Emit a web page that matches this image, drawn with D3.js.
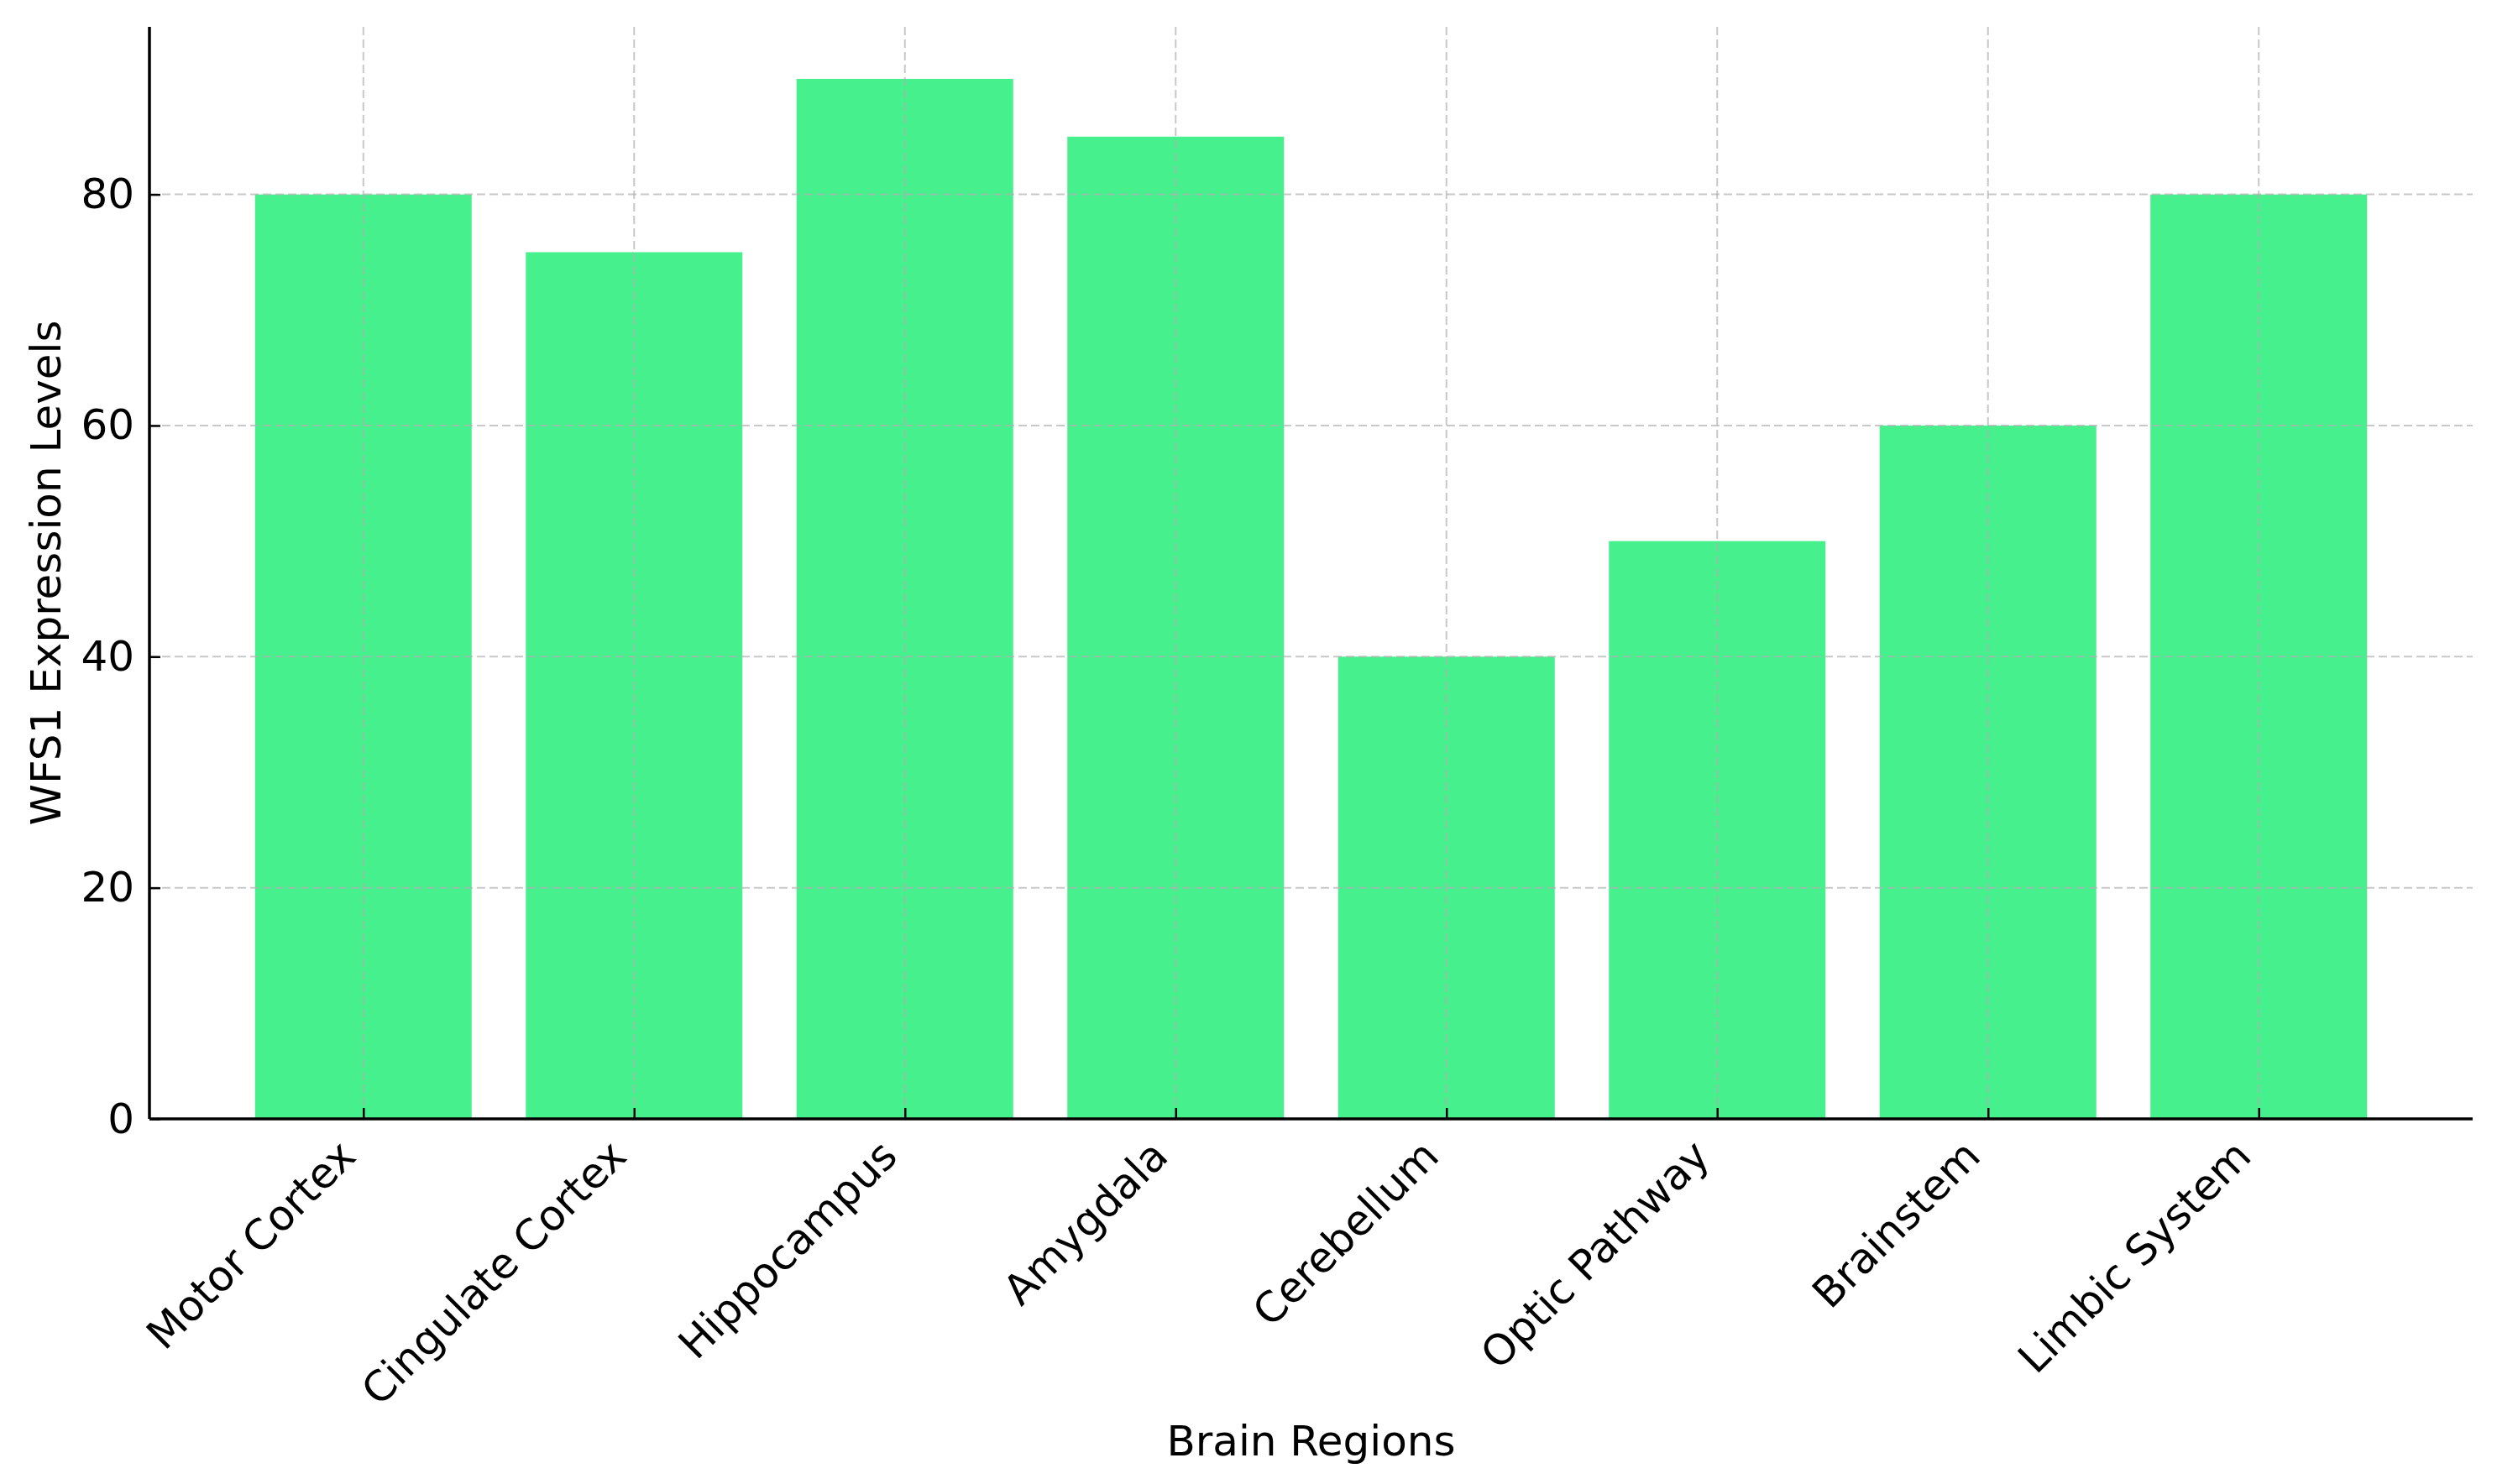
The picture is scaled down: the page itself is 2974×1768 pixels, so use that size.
<!DOCTYPE html>
<html>
<head>
<meta charset="utf-8">
<script src="https://cdn.jsdelivr.net/npm/d3@7"></script>
<style>
  body { margin: 0; background: #fff; }
  svg { display: block; font-family: "DejaVu Sans", sans-serif; }
</style>
</head>
<body>
<svg id="chart"></svg>
<script>
// data
var regions = ["Motor Cortex", "Cingulate Cortex", "Hippocampus", "Amygdala",
               "Cerebellum", "Optic Pathway", "Brainstem", "Limbic System"];
var levels = [80, 75, 90, 85, 40, 50, 60, 80];
var yTicks = [0, 20, 40, 60, 80];

var W = 2974, H = 1768;
var margin = {top: 32, right: 29, bottom: 435, left: 178};
var width = W - margin.left - margin.right;
var height = H - margin.top - margin.bottom;

var svg = d3.select("#chart").attr("width", W).attr("height", H);
var g = svg.append("g").attr("transform", "translate(" + margin.left + "," + margin.top + ")");

// matplotlib-style categorical axis: index positions with 5% margins
var x = d3.scaleLinear().domain([-0.79, regions.length - 1 + 0.79]).range([0, width]);
var y = d3.scaleLinear().domain([0, 94.5]).range([height, 0]);
var barW = x(0.8) - x(0);

g.selectAll("rect.bar")
  .data(levels)
  .enter().append("rect")
  .attr("class", "bar")
  .attr("x", function(d, i) { return x(i) - barW / 2; })
  .attr("y", function(d) { return y(d); })
  .attr("width", barW)
  .attr("height", function(d) { return height - y(d); })
  .attr("fill", "#46F08C");

// grid on top of bars
var grid = g.append("g")
  .attr("stroke", "#b0b0b0")
  .attr("stroke-opacity", 0.7)
  .attr("stroke-width", 2)
  .attr("stroke-dasharray", "10,5");

grid.selectAll("line.h")
  .data(yTicks)
  .enter().append("line")
  .attr("x1", 0).attr("x2", width)
  .attr("y1", function(d) { return y(d); })
  .attr("y2", function(d) { return y(d); });

grid.selectAll("line.v")
  .data(regions)
  .enter().append("line")
  .attr("y1", 0).attr("y2", height)
  .attr("x1", function(d, i) { return x(i); })
  .attr("x2", function(d, i) { return x(i); });

// y axis (ticks point inward)
var yAxis = g.append("g")
  .call(d3.axisLeft(y).tickValues(yTicks).tickSize(-13).tickFormat(d3.format("d")))
  .attr("font-family", "DejaVu Sans");
yAxis.select(".domain").remove();
yAxis.selectAll(".tick line").attr("stroke", "#000").attr("stroke-width", 2.5);
yAxis.selectAll(".tick text")
  .style("font-size", "50px")
  .attr("fill", "#000")
  .attr("x", -18);

// x axis
var xAxis = g.append("g")
  .attr("transform", "translate(0," + height + ")")
  .call(d3.axisBottom(x).tickValues(d3.range(regions.length)).tickSize(-13)
        .tickFormat(function(i) { return regions[i]; }))
  .attr("font-family", "DejaVu Sans");
xAxis.select(".domain").remove();
xAxis.selectAll(".tick line").attr("stroke", "#000").attr("stroke-width", 2.5);
xAxis.selectAll(".tick text")
  .style("font-size", "50px")
  .attr("fill", "#000")
  .attr("text-anchor", "end")
  .attr("dy", null)
  .attr("y", null)
  .attr("transform", "translate(-7,47) rotate(-45)");

// spines
g.append("line")
  .attr("x1", 0).attr("x2", 0).attr("y1", 0).attr("y2", height)
  .attr("stroke", "#000").attr("stroke-width", 3.5);
g.append("line")
  .attr("x1", 0).attr("x2", width).attr("y1", height).attr("y2", height)
  .attr("stroke", "#000").attr("stroke-width", 3.5);

// axis titles
svg.append("text")
  .attr("x", margin.left + width / 2)
  .attr("y", 1734)
  .attr("text-anchor", "middle")
  .style("font-size", "50px")
  .text("Brain Regions");

svg.append("text")
  .attr("transform", "translate(72," + (margin.top + height / 2) + ") rotate(-90)")
  .attr("text-anchor", "middle")
  .style("font-size", "50px")
  .text("WFS1 Expression Levels");
</script>
</body>
</html>
